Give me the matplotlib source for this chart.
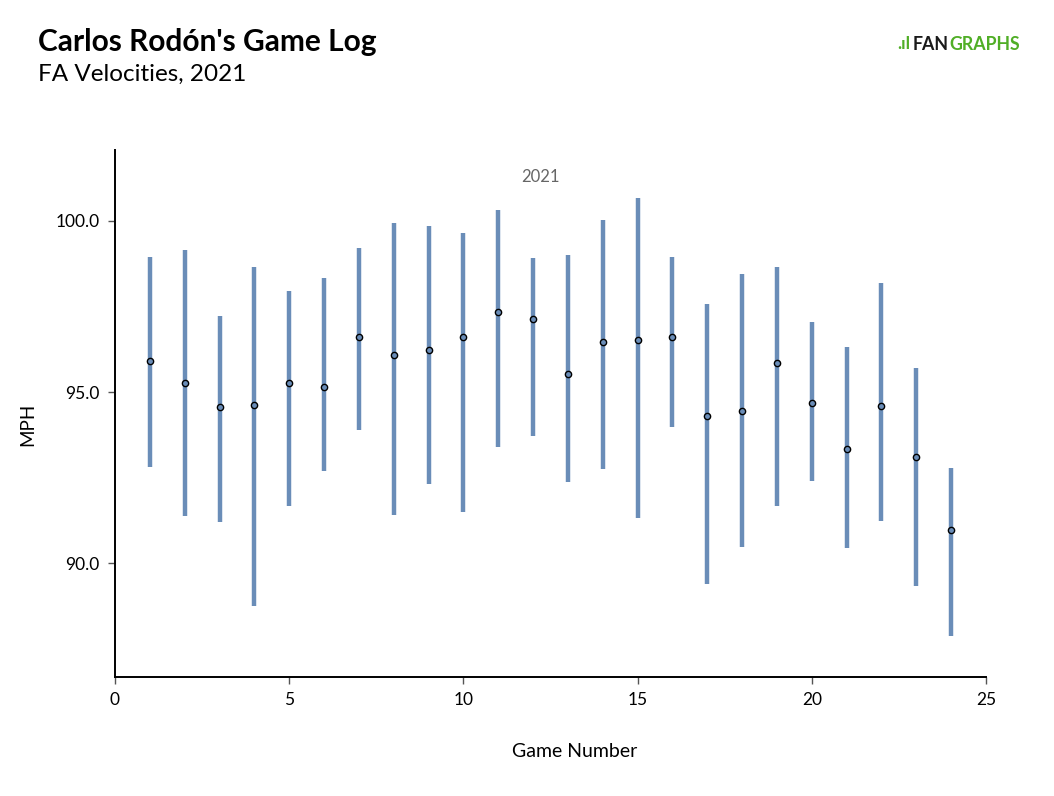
import numpy as np
import matplotlib.pyplot as plt

plt.rcParams['font.family'] = ['Lato', 'DejaVu Sans']

games = list(range(1, 25))
avg_velo = [95.90, 95.26, 94.56, 94.61, 95.26, 95.16, 96.60, 96.08,
            96.23, 96.62, 97.34, 97.13, 95.54, 96.46, 96.52, 96.61,
            94.30, 94.46, 95.84, 94.67, 93.33, 94.59, 93.11, 90.97]
max_velo = [98.93, 99.14, 97.22, 98.65, 97.95, 98.33, 99.21, 99.92,
            99.85, 99.63, 100.31, 98.92, 98.99, 100.03, 100.67, 98.93,
            97.57, 98.45, 98.66, 97.05, 96.31, 98.18, 95.69, 92.79]
min_velo = [92.80, 91.39, 91.22, 88.77, 91.67, 92.70, 93.89, 91.41,
            92.33, 91.51, 93.39, 93.73, 92.37, 92.76, 91.32, 93.99,
            89.40, 90.47, 91.68, 92.41, 90.46, 91.23, 89.34, 87.88]
yticks = [90.0, 95.0, 100.0]
xticks = [0, 5, 10, 15, 20, 25]

blue = '#6a8db8'
green = '#50ae26'

fig = plt.figure(figsize=(10.54, 7.96), dpi=100)
ax = fig.add_axes([0.1091, 0.1495, 0.8264, 0.6621])

ax.vlines(games, min_velo, max_velo, color=blue, linewidth=3.2, zorder=2)
ax.plot(games, avg_velo, 'o', markersize=4.5, markerfacecolor=blue,
        markeredgecolor='black', markeredgewidth=1.0, zorder=3)

ax.set_xlim(0, 25)
ax.set_ylim(86.69, 102.06)
ax.set_xticks(xticks)
ax.set_yticks(yticks)
ax.set_yticklabels(['%.1f' % v for v in yticks])
ax.tick_params(labelsize=12.5, length=5, width=1, color='#555555', pad=6)
ax.spines['top'].set_visible(False)
ax.spines['right'].set_visible(False)
ax.spines['left'].set_linewidth(1.4)
ax.spines['bottom'].set_linewidth(1.4)

ax.set_xlabel('Game Number', fontsize=14, labelpad=20)
ax.xaxis.set_label_coords(0.5276, -0.125)
ax.set_ylabel('MPH', fontsize=13.5, labelpad=14)
ax.yaxis.set_label_coords(-0.09, 0.48)

ax.text(0.489, 0.948, '2021', transform=ax.transAxes, ha='center', va='center',
        fontsize=12, color='#666666')

fig.text(38 / 1054, 1 - 42 / 796, "Carlos Rodón's Game Log", fontsize=21.5,
         fontweight='bold', va='center', ha='left')
fig.text(38 / 1054, 1 - 74 / 796, 'FA Velocities, 2021', fontsize=17.5,
         va='center', ha='left')

# logo
fig.text(897 / 1054, 1 - 44 / 796, '.\u0131l', fontsize=12.5, fontweight='bold',
         color=green, va='center', ha='left')
t_fan = fig.text(913 / 1054, 1 - 44 / 796, 'FAN', fontsize=12.8, fontweight='bold',
                 color='#1a1a1a', va='center', ha='left')
ax.annotate('GRAPHS', xy=(1, 0.5), xycoords=t_fan, va='center', ha='left',
            fontsize=12.8, fontweight='bold', color=green, annotation_clip=False)

fig.savefig('out.png', dpi=100)
